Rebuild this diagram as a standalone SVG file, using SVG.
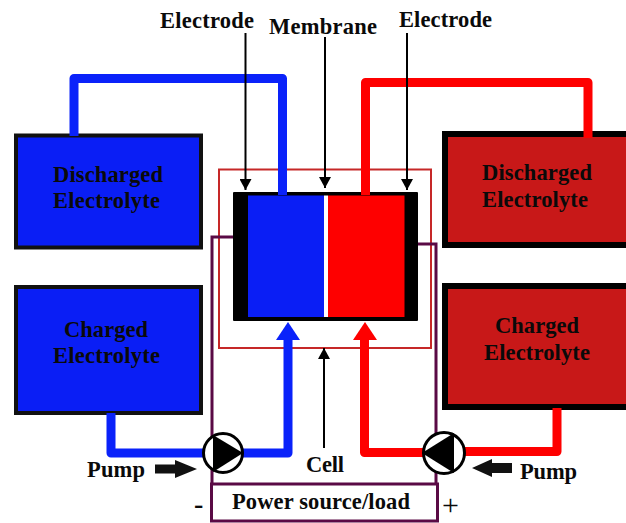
<svg xmlns="http://www.w3.org/2000/svg" width="626" height="523" viewBox="0 0 626 523">
<style>
text{font-family:"Liberation Serif","Times New Roman",serif;font-weight:bold;font-size:22.500px;fill:#0a0a0a}
.tb{fill:#0a1ef5;stroke:#111;stroke-width:4}
.tr{fill:#c81818;stroke:#000;stroke-width:6}
.pb{fill:none;stroke:#0a22fa;stroke-width:9;stroke-linejoin:round}
.pr{fill:none;stroke:#fe0000;stroke-width:9;stroke-linejoin:round}
.w{fill:none;stroke:#5a0a45;stroke-width:3}
.l{fill:none;stroke:#000;stroke-width:2;marker-end:url(#ah)}
.pc{fill:#fff;stroke:#000;stroke-width:3}
</style>
<defs>
<marker id="ah" markerUnits="userSpaceOnUse" markerWidth="14" markerHeight="12" refX="11" refY="6" orient="auto"><path d="M0 0L11 6L0 12Z" fill="#000"/></marker>
</defs>
<g id="cell-outline"><rect x="219" y="169.500" width="212" height="178.500" fill="none" stroke="#c62828" stroke-width="2"/></g>
<g id="tank-discharged-blue"><rect class="tb" x="16" y="135.500" width="185" height="112"/><text x="53" y="182" textLength="110">Discharged</text><text x="53" y="208" textLength="107">Electrolyte</text></g>
<g id="tank-charged-blue"><rect class="tb" x="16" y="287" width="185" height="126"/><text x="64" y="337" textLength="84">Charged</text><text x="53" y="363" textLength="107">Electrolyte</text></g>
<g id="tank-discharged-red"><rect class="tr" x="445" y="134" width="190" height="111"/><text x="482" y="180" textLength="110">Discharged</text><text x="482" y="207" textLength="106">Electrolyte</text></g>
<g id="tank-charged-red"><rect class="tr" x="445" y="286" width="190" height="121"/><text x="495" y="333" textLength="84">Charged</text><text x="484" y="360" textLength="106">Electrolyte</text></g>
<g id="cell"><rect x="233" y="192" width="185" height="129" rx="1" fill="#000"/><rect x="248" y="195.500" width="76" height="121.500" fill="#0a1ef5"/><rect x="324" y="195.500" width="4" height="121.500" fill="#fff"/><rect x="328" y="195.500" width="76.500" height="121.500" fill="#fe0000"/></g>
<g id="connectors">
<path class="pb" d="M74 136V78.500H282.500V195"/>
<path class="pr" d="M365.500 195V82.500H588V138"/>
<path class="pb" d="M111 413V453H205"/>
<path class="pb" d="M241 453H288V338"/>
<path class="pr" d="M557 408V451.500H462"/>
<path class="pr" d="M425 452.500H364.500V338"/>
<path d="M288 322L300 340H276Z" fill="#0a22fa"/>
<path d="M365 322L377 340H353Z" fill="#fe0000"/>
<path class="w" d="M233 237H212V484"/>
<path class="w" d="M418 244H436V484"/>
<path class="l" d="M245.500 33V190"/>
<path class="l" d="M325 37V188"/>
<path class="l" d="M407 33V190"/>
<path class="l" d="M324 448V348"/>
<path d="M155 464.500H175V460L197 469L175 478V473.500H155Z" fill="#111"/>
<path d="M512 463H492V459L472 468L492 477V473H512Z" fill="#111"/>
</g>
<g id="pump-left"><circle class="pc" cx="223" cy="453" r="19.500"/><path d="M213 435L243 453L213 472Z" fill="#000"/></g>
<g id="pump-right"><circle class="pc" cx="444" cy="453" r="20.500"/><path d="M422 453L454 433V473Z" fill="#000"/></g>
<g id="power"><rect x="211.500" y="484" width="226" height="37" fill="#fff" stroke="#5a0a45" stroke-width="3"/><text x="232" y="509" textLength="178">Power source/load</text></g>
<g id="labels">
<text x="160" y="28" textLength="94">Electrode</text>
<text x="269" y="34" textLength="108">Membrane</text>
<text x="399" y="27" textLength="93">Electrode</text>
<text x="306" y="472" textLength="38">Cell</text>
<text x="87" y="477" textLength="58">Pump</text>
<text x="520" y="479" textLength="57">Pump</text>
<text x="194" y="513" style="font-size:28px">-</text>
<text x="442" y="515" style="font-size:30px;font-weight:normal">+</text>
</g>
</svg>
